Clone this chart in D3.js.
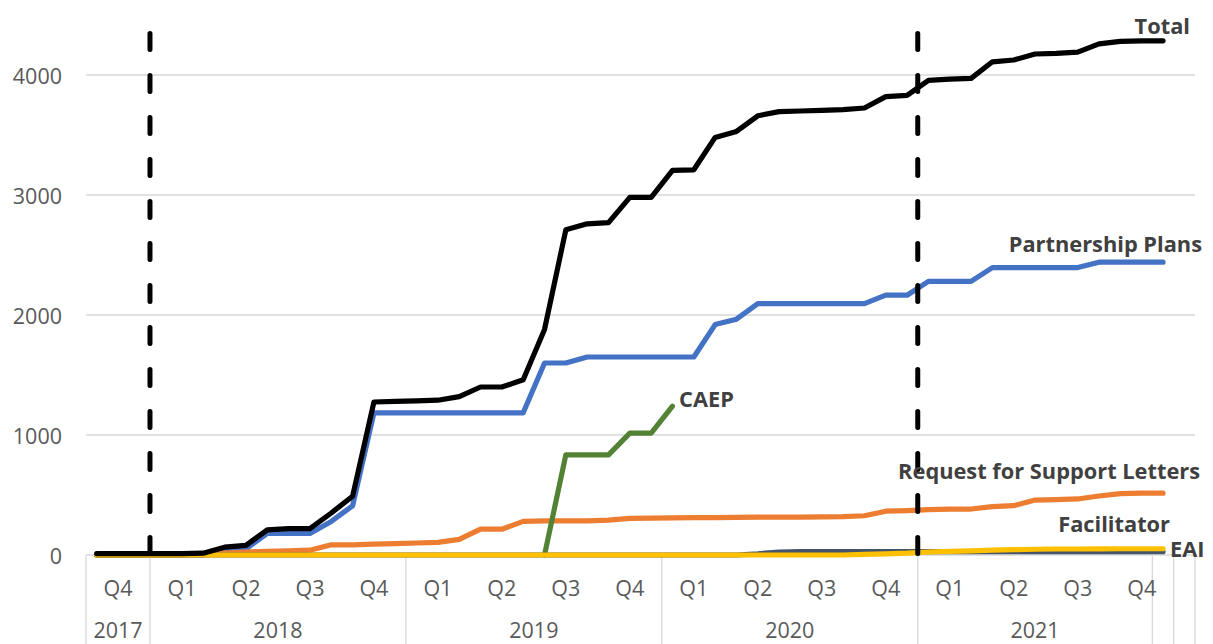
<!DOCTYPE html>
<html>
<head>
<meta charset="utf-8">
<script src="https://cdn.jsdelivr.net/npm/d3@7"></script>
<style>
  html, body { margin: 0; padding: 0; background: #fff; }
  svg { display: block; font-family: "Open Sans", "Liberation Sans", sans-serif; }
</style>
</head>
<body>
<svg id="chart" width="1213" height="644"></svg>
<script>
// Monthly cumulative counts, Oct 2017 – Dec 2021
const months = d3.timeMonth.range(new Date(2017, 9, 1), new Date(2022, 0, 1));

const total = [12, 12, 12, 12, 12, 15, 65, 80, 210, 220, 220, 350, 490, 1275, 1280, 1285, 1290, 1320, 1400, 1400,
  1460, 1880, 2710, 2760, 2770, 2980, 2980, 3205, 3210, 3480, 3530, 3660, 3695, 3700, 3705, 3712, 3725, 3820, 3830, 3955,
  3965, 3972, 4110, 4125, 4175, 4180, 4190, 4260, 4280, 4285, 4285];

const partnershipPlans = [0, 0, 0, 0, 0, 0, 40, 50, 180, 180, 180, 280, 410, 1185, 1185, 1185, 1185, 1185, 1185, 1185,
  1185, 1600, 1600, 1650, 1650, 1650, 1650, 1650, 1650, 1920, 1965, 2095, 2095, 2095, 2095, 2095, 2095, 2165, 2165, 2280,
  2280, 2280, 2395, 2395, 2395, 2395, 2395, 2440, 2440, 2440, 2440];

const supportLetters = [0, 0, 0, 0, 0, 5, 15, 25, 30, 35, 40, 85, 85, 90, 95, 100, 105, 130, 215, 215,
  280, 285, 285, 285, 290, 305, 308, 310, 312, 312, 314, 315, 316, 316, 317, 320, 327, 365, 370, 378,
  383, 383, 403, 411, 458, 462, 467, 492, 512, 515, 515];

const caep = [null, null, null, null, null, null, null, null, null, null, null, null, null, null, null, null, null, null, null, null,
  null, 0, 835, 835, 835, 1015, 1015, 1240, null, null, null, null, null, null, null, null, null, null, null, null,
  null, null, null, null, null, null, null, null, null, null, null];

const facilitator = [0, 0, 0, 0, 0, 0, 0, 0, 0, 0, 0, 0, 0, 0, 0, 0, 0, 0, 0, 0,
  0, 0, 0, 0, 0, 0, 0, 0, 0, 0, 0, 0, 0, 0, 0, 0, 5, 10, 15, 25,
  30, 35, 40, 45, 48, 50, 50, 51, 52, 52, 52];

const eai = [0, 0, 0, 0, 0, 0, 0, 0, 0, 0, 0, 0, 0, 0, 0, 0, 0, 0, 0, 0,
  0, 0, 0, 0, 0, 0, 0, 0, 0, 0, 0, 10, 25, 28, 28, 28, 28, 28, 28, 28,
  28, 28, 28, 28, 28, 28, 28, 28, 28, 28, 28];

// Axis labels
const yTicks = [0, 1000, 2000, 3000, 4000];
const quarterLabels = ["Q4",
  "Q1", "Q2", "Q3", "Q4",
  "Q1", "Q2", "Q3", "Q4",
  "Q1", "Q2", "Q3", "Q4",
  "Q1", "Q2", "Q3", "Q4"];
const yearLabels = ["2017", "2018", "2019", "2020", "2021", "", ""];
const yearGroupMonths = [3, 12, 12, 12, 11, 1, 1];
const phaseBreaks = [new Date(2018, 0, 1), new Date(2021, 0, 1)];

const series = [
  { name: "Partnership Plans", values: partnershipPlans, color: "#4472C4" },
  { name: "Request for Support Letters", values: supportLetters, color: "#ED7D31" },
  { name: "CAEP", values: caep, color: "#548235" },
  { name: "EAI", values: eai, color: "#44546A" },
  { name: "Facilitator", values: facilitator, color: "#FFC000" },
  { name: "Total", values: total, color: "#000000" }
];

(function draw() {
  const svg = d3.select("#chart");
  const H = 644;
  const plotLeft = 86, plotRight = 1195, plotTop = 75, plotBottom = 555;
  const tickFont = 21.5, labelFont = 21.8;

  // one band per month plus one trailing empty slot
  const slots = d3.range(months.length + 1);
  const x = d3.scaleBand().domain(slots).range([plotLeft, plotRight]).padding(0);
  const xc = i => x(i) + x.bandwidth() / 2;
  const y = d3.scaleLinear().domain([0, 4000]).range([plotBottom, plotTop]);

  const monthIndex = d => months.findIndex(m => +m === +d);

  // gridlines
  svg.append("g").selectAll("line")
    .data(yTicks)
    .join("line")
    .attr("x1", plotLeft).attr("x2", plotRight)
    .attr("y1", d => y(d)).attr("y2", d => y(d))
    .attr("stroke", "#d9d9d9").attr("stroke-width", 1.3);

  // y tick labels
  svg.append("g").selectAll("text")
    .data(yTicks)
    .join("text")
    .attr("x", 62).attr("y", d => y(d))
    .attr("text-anchor", "end").attr("dominant-baseline", "central")
    .attr("fill", "#595959").attr("font-size", tickFont)
    .text(d => d);

  // category axis: year separators
  const yearStarts = [0];
  yearGroupMonths.forEach(n => yearStarts.push(yearStarts[yearStarts.length - 1] + n));
  const sepX = i => (i >= slots.length ? plotRight : x(i));
  svg.append("g").selectAll("line")
    .data(yearStarts)
    .join("line")
    .attr("x1", d => sepX(d)).attr("x2", d => sepX(d))
    .attr("y1", plotBottom).attr("y2", H)
    .attr("stroke", "#d9d9d9").attr("stroke-width", 1.3);

  // quarter labels (three months each)
  svg.append("g").selectAll("text")
    .data(quarterLabels)
    .join("text")
    .attr("x", (d, i) => (x(i * 3) + x(i * 3 + 2) + x.bandwidth()) / 2)
    .attr("y", 587)
    .attr("text-anchor", "middle").attr("dominant-baseline", "central")
    .attr("fill", "#595959").attr("font-size", tickFont)
    .text(d => d);

  // year labels
  svg.append("g").selectAll("text")
    .data(yearLabels)
    .join("text")
    .attr("x", (d, i) => (sepX(yearStarts[i]) + sepX(yearStarts[i + 1])) / 2)
    .attr("y", 629)
    .attr("text-anchor", "middle").attr("dominant-baseline", "central")
    .attr("fill", "#595959").attr("font-size", tickFont)
    .text(d => d);

  // series lines
  const line = d3.line()
    .defined(d => d != null)
    .x((d, i) => xc(i))
    .y(d => y(d));

  svg.append("g").selectAll("path")
    .data(series)
    .join("path")
    .attr("d", d => line(d.values))
    .attr("fill", "none")
    .attr("stroke", d => d.color)
    .attr("stroke-width", 5.2)
    .attr("stroke-linejoin", "round")
    .attr("stroke-linecap", "round");

  // phase markers
  svg.append("g").selectAll("line")
    .data(phaseBreaks)
    .join("line")
    .attr("x1", d => x(monthIndex(d))).attr("x2", d => x(monthIndex(d)))
    .attr("y1", 33.5).attr("y2", 553.5)
    .attr("stroke", "#000").attr("stroke-width", 5)
    .attr("stroke-dasharray", "16 26")
    .attr("stroke-linecap", "round");

  // series labels
  const labels = [
    { text: "Total", x: 1190, y: 25, anchor: "end" },
    { text: "Partnership Plans", x: 1202, y: 243, anchor: "end" },
    { text: "CAEP", x: 679, y: 398, anchor: "start" },
    { text: "Request for Support Letters", x: 1200, y: 470, anchor: "end" },
    { text: "Facilitator", x: 1170, y: 523, anchor: "end" },
    { text: "EAI", x: 1170, y: 548, anchor: "start" }
  ];
  svg.append("g").selectAll("text")
    .data(labels)
    .join("text")
    .attr("x", d => d.x).attr("y", d => d.y)
    .attr("text-anchor", d => d.anchor).attr("dominant-baseline", "central")
    .attr("fill", "#404040").attr("font-size", labelFont).attr("font-weight", "bold")
    .text(d => d.text);
})();
</script>
</body>
</html>
